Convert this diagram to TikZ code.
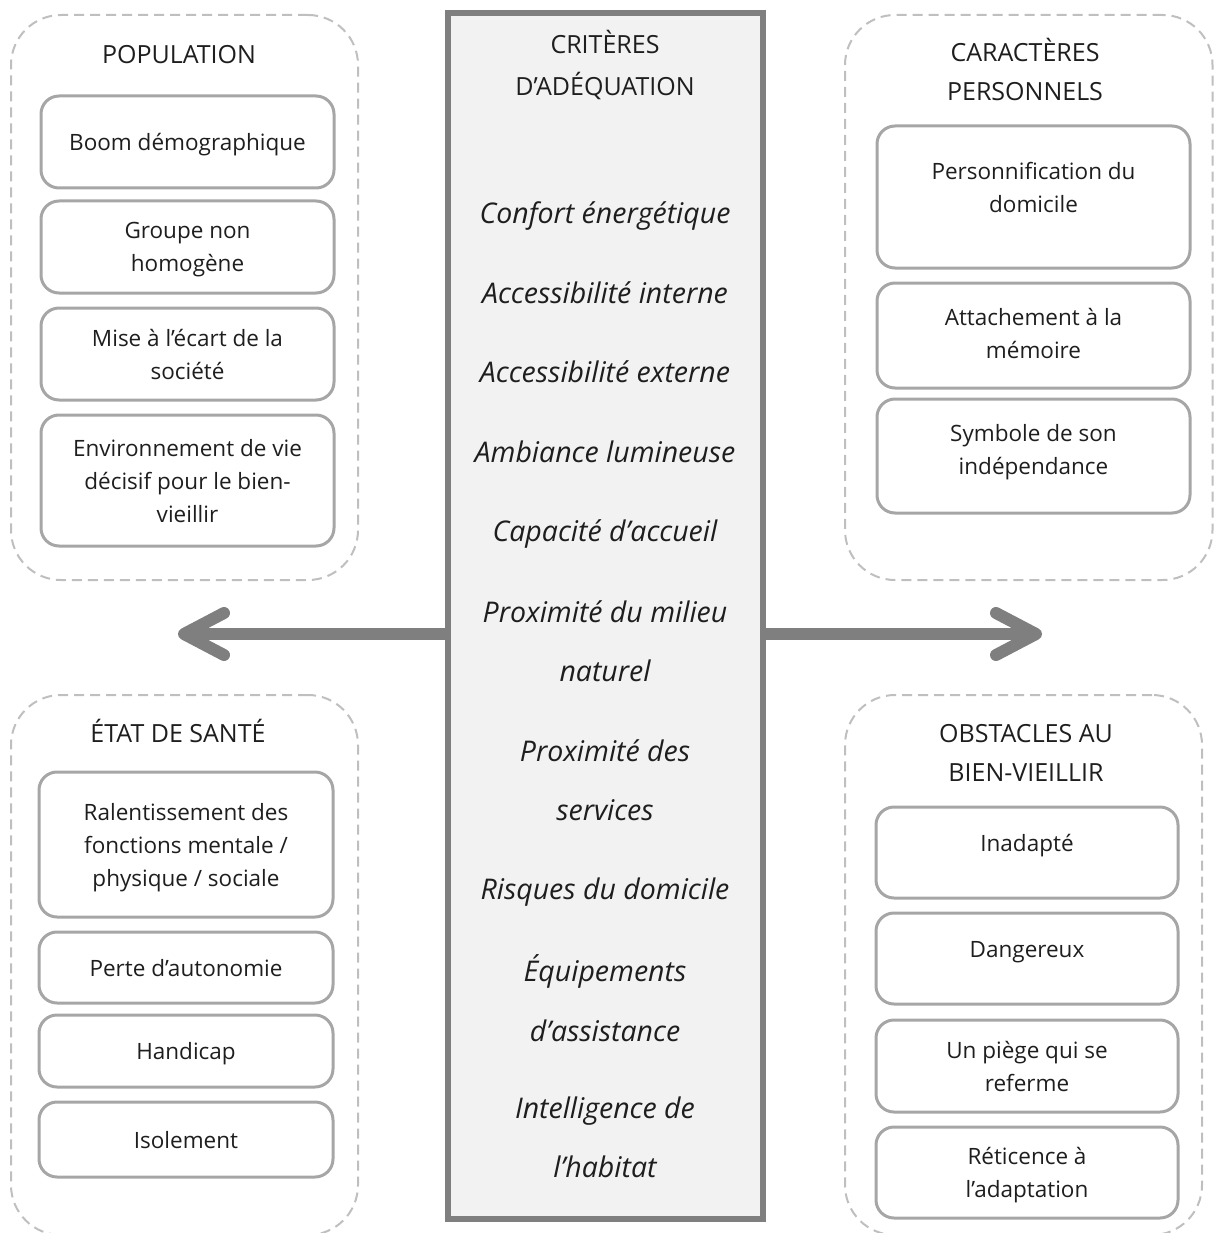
\documentclass[tikz,border=0pt]{standalone}
\usepackage{fontspec}
\setmainfont{Open Sans}
\usetikzlibrary{arrows.meta}
\definecolor{txt}{HTML}{1E1E1E}
\definecolor{dashgray}{HTML}{BFBFBF}
\definecolor{boxgray}{HTML}{A6A6A6}
\definecolor{midgray}{HTML}{7F7F7F}
\definecolor{critfill}{HTML}{F2F2F2}
\tikzset{
  container/.style={draw=dashgray, line width=2pt, dash pattern=on 10pt off 6pt, rounded corners=50pt, inner sep=0pt},
  inbox/.style={draw=boxgray, line width=3pt, rounded corners=18pt, align=center, inner sep=0pt, text=txt,
    font=\fontsize{22.5}{33}\selectfont},
  title/.style={align=center, inner sep=0pt, text=txt, font=\fontsize{25}{39}\selectfont},
  critbox/.style={draw=midgray, line width=6pt, fill=critfill, inner sep=0pt},
  crit/.style={align=center, inner sep=0pt, text=txt, text depth=6pt, font=\fontsize{28.5}{59.5}\selectfont\itshape},
  bigarrow/.style={draw=midgray, line width=12pt, -{Straight Barb[length=40pt,width=42pt,round]}}
}
\begin{document}
\begin{tikzpicture}[x=1pt,y=-1pt]
\useasboundingbox (0,0) rectangle (1215,1233);
\clip (0,0) rectangle (1215,1233);
% containers
\node[container, minimum width=347, minimum height=565] (cpop) at (184.5,297.5) {};
\node[container, minimum width=367.5, minimum height=565] (ccar) at (1028.75,297.5) {};
\node[container, minimum width=347, minimum height=540] (csan) at (184.5,965) {};
\node[container, minimum width=357, minimum height=540] (cobs) at (1023.5,965) {};
% central box
\node[critbox, minimum width=314.5, minimum height=1206] (cbox) at (605.25,616) {};
% arrows
\coordinate (ltip) at (178,634);
\coordinate (rtip) at (1042,634);
\draw[bigarrow] (ltip -| cbox.west) -- (ltip);
\draw[bigarrow] (rtip -| cbox.east) -- (rtip);
% titles
\node[title] (tpop) at (179,55) {POPULATION};
\node[title] (tcar) at (1025,69) {CARACTÈRES\\PERSONNELS};
\node[title] (tsan) at (178,731) {ÉTAT DE SANTÉ};
\node[title] (tobs) at (1026,752.5) {OBSTACLES AU\\BIEN-VIEILLIR};
\node[title, font=\fontsize{25}{42}\selectfont] (tcrit) at (605,65) {CRITÈRES\\D’ADÉQUATION};
% population
\node[inbox, minimum width=293, minimum height=92, text depth=-0.6pt] (p1) at (187.5,142) {Boom démographique};
\node[inbox, minimum width=293, minimum height=92, text depth=-12pt] (p2) at (187.5,247) {Groupe non\\homogène};
\node[inbox, minimum width=293, minimum height=92, text depth=-11pt] (p3) at (187.5,354) {Mise à l’écart de la\\société};
\node[inbox, minimum width=293, minimum height=131, text depth=-12pt] (p4) at (187.5,480.5) {Environnement de vie\\décisif pour le bien-\\vieillir};
% caracteres
\node[inbox, minimum width=313, minimum height=142, text depth=20pt] (k1) at (1033.5,197) {Personnification du\\domicile};
\node[inbox, minimum width=313, minimum height=105, text depth=5pt] (k2) at (1033.5,335.5) {Attachement à la\\mémoire};
\node[inbox, minimum width=313, minimum height=114, text depth=13pt] (k3) at (1033.5,456) {Symbole de son\\indépendance};
% sante
\node[inbox, minimum width=294, minimum height=145, text depth=-4pt] (s1) at (186,844.5) {Ralentissement des\\fonctions mentale /\\physique / sociale};
\node[inbox, minimum width=294, minimum height=71, text depth=-5pt] (s2) at (186,967.5) {Perte d’autonomie};
\node[inbox, minimum width=294, minimum height=72, text depth=-4pt] (s3) at (186,1051) {Handicap};
\node[inbox, minimum width=294, minimum height=75, text depth=-2pt] (s4) at (186,1139.5) {Isolement};
% obstacles
\node[inbox, minimum width=302, minimum height=91, text depth=20pt] (o1) at (1027,852.5) {Inadapté};
\node[inbox, minimum width=302, minimum height=91, text depth=19pt] (o2) at (1027,958.5) {Dangereux};
\node[inbox, minimum width=302, minimum height=92, text depth=-11pt] (o3) at (1027,1066) {Un piège qui se\\referme};
\node[inbox, minimum width=302, minimum height=91, text depth=-14pt] (o4) at (1027,1172.5) {Réticence à\\l’adaptation};
% criteres
\node[crit] (c1) at (605,216) {Confort énergétique};
\node[crit] (c2) at (605,296) {Accessibilité interne};
\node[crit] (c3) at (605,375) {Accessibilité externe};
\node[crit] (c4) at (605,455) {Ambiance lumineuse};
\node[crit] (c5) at (605,534) {Capacité d’accueil};
\node[crit] (c6) at (605,644) {Proximité du milieu\\naturel};
\node[crit] (c7) at (605,783) {Proximité des\\services};
\node[crit] (c8) at (605,892) {Risques du domicile};
\node[crit] (c9) at (605,1001) {Équipements\\d’assistance};
\node[crit] (c10) at (605,1140) {Intelligence de\\l’habitat};
\end{tikzpicture}
\end{document}
